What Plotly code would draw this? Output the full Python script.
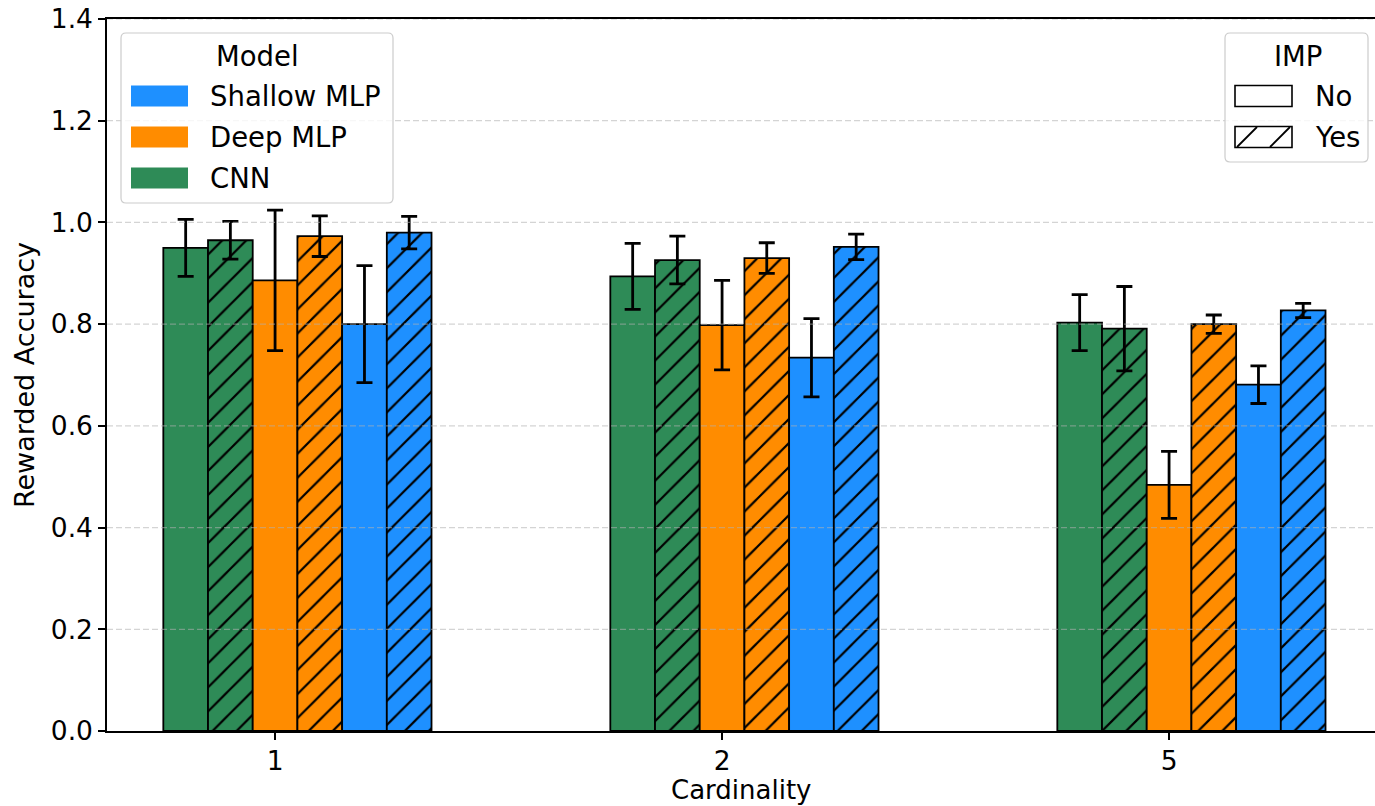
import plotly.graph_objects as go

# Categories on the x axis and the value axis ticks
cardinality = ["1", "2", "5"]
y_ticks = [0.0, 0.2, 0.4, 0.6, 0.8, 1.0, 1.2, 1.4]

# Mean rewarded accuracy and its error (one value per cardinality)
cnn_no = [0.950, 0.894, 0.803]
cnn_no_err = [0.056, 0.065, 0.055]
cnn_yes = [0.965, 0.926, 0.791]
cnn_yes_err = [0.037, 0.047, 0.083]
deep_no = [0.886, 0.798, 0.484]
deep_no_err = [0.138, 0.088, 0.066]
deep_yes = [0.973, 0.930, 0.800]
deep_yes_err = [0.040, 0.030, 0.018]
shallow_no = [0.800, 0.734, 0.681]
shallow_no_err = [0.115, 0.077, 0.037]
shallow_yes = [0.980, 0.952, 0.827]
shallow_yes_err = [0.032, 0.025, 0.014]

model_colors = {"Shallow MLP": "#1E90FF", "Deep MLP": "#FF8C00", "CNN": "#2E8B57"}
legend_models = ["Shallow MLP", "Deep MLP", "CNN"]
imp_levels = ["No", "Yes"]

series = [
    ("CNN", "No", cnn_no, cnn_no_err),
    ("CNN", "Yes", cnn_yes, cnn_yes_err),
    ("Deep MLP", "No", deep_no, deep_no_err),
    ("Deep MLP", "Yes", deep_yes, deep_yes_err),
    ("Shallow MLP", "No", shallow_no, shallow_no_err),
    ("Shallow MLP", "Yes", shallow_yes, shallow_yes_err),
]

FONT = "DejaVu Sans"
FS = 26.5
FS_LEG = 27.5
W, H = 1375, 806
ML, MR, MT, MB = 107, 0, 19, 75
PW, PH = W - ML - MR, H - MT - MB
BAR_W = 0.1


def fx(px):
    return (px - ML) / PW


def fy(py):
    return (H - MB - py) / PH


positions = list(range(len(cardinality)))

fig = go.Figure()
for k, (model, imp, vals, errs) in enumerate(series):
    color = model_colors[model]
    fig.add_trace(go.Bar(
        x=positions,
        y=vals,
        width=BAR_W,
        offset=(k - 2) * BAR_W - BAR_W / 2,
        marker=dict(
            color=color,
            line=dict(color="black", width=1.8),
            pattern=dict(
                shape="/" if imp == "Yes" else "",
                fgcolor="black",
                bgcolor=color,
                size=17,
                solidity=0.13,
                fillmode="replace",
            ),
        ),
        error_y=dict(type="data", array=errs, color="black", thickness=2.8, width=8),
        name=f"{model} / {imp}",
        showlegend=False,
    ))

shapes = []
# dashed horizontal grid, drawn over the bars
for t in y_ticks[1:]:
    shapes.append(dict(type="line", xref="paper", yref="y", x0=0, x1=1, y0=t, y1=t,
                       line=dict(color="rgba(176,176,176,0.55)", width=1.2, dash="6px,3px"),
                       layer="above"))


def rounded_box(x0, y0, x1, y1, r=5):
    # pixel rectangle with rounded corners, expressed in paper coordinates
    X = lambda v: f"{fx(v):.5f}"
    Y = lambda v: f"{fy(v):.5f}"
    path = (f"M{X(x0 + r)},{Y(y0)} L{X(x1 - r)},{Y(y0)} Q{X(x1)},{Y(y0)} {X(x1)},{Y(y0 + r)} "
            f"L{X(x1)},{Y(y1 - r)} Q{X(x1)},{Y(y1)} {X(x1 - r)},{Y(y1)} "
            f"L{X(x0 + r)},{Y(y1)} Q{X(x0)},{Y(y1)} {X(x0)},{Y(y1 - r)} "
            f"L{X(x0)},{Y(y0 + r)} Q{X(x0)},{Y(y0)} {X(x0 + r)},{Y(y0)} Z")
    return dict(type="path", xref="paper", yref="paper", path=path,
                fillcolor="rgba(255,255,255,0.8)", line=dict(color="#cccccc", width=1.2),
                layer="above")


def rect(x0, y0, x1, y1, fill, line_color=None, lw=0):
    return dict(type="rect", xref="paper", yref="paper",
                x0=fx(x0), x1=fx(x1), y0=fy(y1), y1=fy(y0),
                fillcolor=fill, line=dict(color=line_color or fill, width=lw), layer="above")


annotations = []


def label(text, x, y, anchor="left", size=FS_LEG, yanchor="middle"):
    annotations.append(dict(text=text, xref="paper", yref="paper", x=fx(x), y=fy(y),
                            xanchor=anchor, yanchor=yanchor, showarrow=False, borderpad=0,
                            font=dict(family=FONT, size=size, color="black")))


# Model legend (upper left)
shapes.append(rounded_box(121, 33, 393, 203))
label("Model", 257, 56, "center")
row_y = [96, 137, 178]
for m, yy in zip(legend_models, row_y):
    shapes.append(rect(131, yy - 10.5, 188, yy + 10.5, model_colors[m]))
    label(m, 209, yy)

# IMP legend (upper right)
shapes.append(rounded_box(1225, 33, 1368, 162))
label("IMP", 1298, 56, "center")
for lvl, yy in zip(imp_levels, row_y[:2]):
    shapes.append(rect(1235, yy - 10.5, 1292, yy + 10.5, "white", "black", 1.6))
    if lvl == "Yes":
        for bx in (1237, 1270):
            shapes.append(dict(type="line", xref="paper", yref="paper",
                               x0=fx(bx), y0=fy(yy + 10), x1=fx(bx + 20), y1=fy(yy - 10),
                               line=dict(color="black", width=1.8), layer="above"))
    label(lvl, 1314, yy)

# x-axis title, sitting on the bottom edge below the tick labels
label("Cardinality", (ML + W) / 2, 806, "center", 26, "bottom")

fig.update_layout(
    width=W, height=H,
    margin=dict(l=ML, r=MR, t=MT, b=MB, pad=0),
    paper_bgcolor="white", plot_bgcolor="white",
    barmode="overlay",
    showlegend=False,
    font=dict(family=FONT, size=FS, color="black"),
    shapes=shapes,
    annotations=annotations,
)
fig.update_xaxes(
    range=[-0.376, -0.376 + PW / 447.0],
    tickmode="array", tickvals=positions, ticktext=cardinality,
    ticks="outside", ticklen=7, tickwidth=1.5, tickcolor="black",
    ticklabelstandoff=-2,
    showline=True, linecolor="black", linewidth=1.5, mirror=True,
    showgrid=False, zeroline=False,
    tickfont=dict(family=FONT, size=FS),
)
fig.update_yaxes(
    range=[0, 1.4],
    tickmode="array", tickvals=y_ticks, ticktext=[f"{v:.1f}" for v in y_ticks],
    ticks="outside", ticklen=7, tickwidth=1.5, tickcolor="black",
    showline=True, linecolor="black", linewidth=1.5,
    showgrid=False, zeroline=False,
    title=dict(text="Rewarded Accuracy", font=dict(family=FONT, size=27), standoff=8),
    tickfont=dict(family=FONT, size=FS),
)

fig.write_html("out.html")
